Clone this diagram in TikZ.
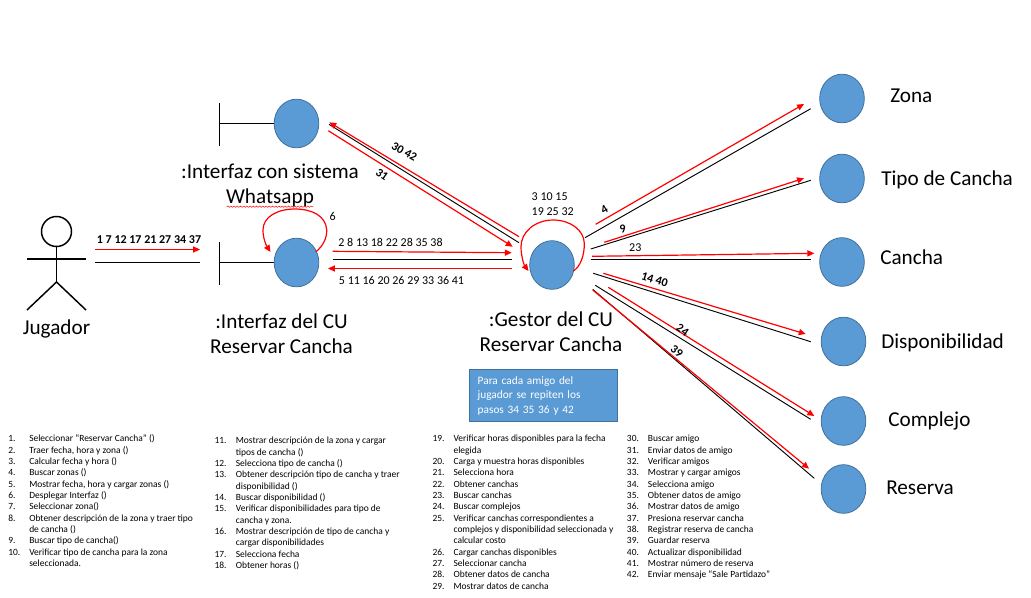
\documentclass[tikz,border=0pt]{standalone}
\usepackage{fontspec}
\setmainfont{Carlito}
\usetikzlibrary{shapes.geometric, arrows.meta, decorations.pathmorphing}
\definecolor{object_blue}{RGB}{91, 155, 213}
\definecolor{object_border}{RGB}{65, 113, 156}
\definecolor{message_red}{RGB}{255, 0, 0}
\tikzstyle{object} = [ellipse, minimum width=33.5pt, minimum height=36.5pt, inner sep=0pt, draw=object_border, line width=0.6pt, fill=object_blue]
\tikzstyle{biglabel} = [inner sep=0pt, align=center, font=\fontsize{15.9}{18.6}\selectfont]
\tikzstyle{entitylabel} = [biglabel, anchor=west]
\tikzstyle{msglabel} = [inner sep=0pt, font=\fontsize{9}{11}\selectfont]
\tikzstyle{tiltlabel} = [inner sep=0pt, font=\fontsize{9}{11}\selectfont\bfseries]
\tikzstyle{steplist} = [inner sep=0pt, anchor=north west, font=\fontsize{7.1}{8.5}\selectfont]
\tikzstyle{notebox} = [rectangle, anchor=north west, minimum width=110.8pt, minimum height=38.8pt, inner xsep=6pt, text width=98.8pt, align=left, text=white, draw=object_border, line width=0.6pt, fill=object_blue, font=\fontsize{8.5}{10.9}\selectfont]
\tikzstyle{link} = [black, line width=0.7pt]
\tikzstyle{arrow} = [message_red, line width=0.9pt, -{Triangle[length=5.2pt, width=4.6pt]}]
\tikzstyle{actorline} = [black, line width=1.1pt]
\tikzstyle{bar} = [black, line width=0.7pt]

\begin{document}
\begin{tikzpicture}[x=0.75pt, y=-0.75pt]
    \useasboundingbox (0,0) rectangle (1031,597);

    % objects
    \node (whatsapp) [object] at (296.5,123.5) {};
    \node (interfaz) [object] at (296.5,262.5) {};
    \node (gestor) [object] at (552,265) {};
    \node (zona) [object] at (842,98.5) {};
    \node (tipo) [object] at (842,178.5) {};
    \node (cancha) [object] at (842,262) {};
    \node (disponibilidad) [object] at (843.5,341.5) {};
    \node (complejo) [object] at (843.5,421) {};
    \node (reserva) [object] at (843.5,489) {};

    % boundary bars
    \coordinate (whatsappbarA) at (219.5,103); \coordinate (whatsappbarB) at (219.5,146); \coordinate (whatsappbarC) at (219.5,123.5);
    \coordinate (interfazbarA) at (219.5,242); \coordinate (interfazbarB) at (219.5,285); \coordinate (interfazbarC) at (219.5,262.5);
    \draw [bar] (whatsappbarA) -- (whatsappbarB);
    \draw [bar] (whatsappbarC) -- (whatsapp.west);
    \draw [bar] (interfazbarA) -- (interfazbarB);
    \draw [bar] (interfazbarC) -- (interfaz.west);

    % actor
    \node (head) [circle, minimum size=22.5pt, inner sep=0pt, draw=black, line width=1.1pt] at (56.5,231.5) {};
    \coordinate (hip) at (56.5,282);
    \coordinate (armleft) at (27,259); \coordinate (armright) at (86,259);
    \coordinate (footleft) at (27,310); \coordinate (footright) at (86,310);
    \draw [actorline] (head.south) -- (hip);
    \draw [actorline] (armleft) -- (armright);
    \draw [actorline] (footleft) -- (hip) -- (footright);

    % labels
    \node (jugadorlabel) [biglabel] at (56.5,329) {Jugador};
    \node (whatsapplabel) [biglabel] at (270,185.5) {:Interfaz con sistema\\Whatsapp};
    \node (interfazlabel) [biglabel] at (281.5,333.5) {:Interfaz del CU\\Reservar Cancha};
    \node (gestorlabel) [biglabel] at (551,331.5) {:Gestor del CU\\Reservar Cancha};
    \node (zonalabel) [entitylabel] at (890,96) {Zona};
    \node (tipolabel) [entitylabel] at (881,180) {Tipo de Cancha};
    \node (canchalabel) [entitylabel] at (880,257) {Cancha};
    \node (disponibilidadlabel) [entitylabel] at (881,343) {Disponibilidad};
    \node (complejolabel) [entitylabel] at (888,421) {Complejo};
    \node (reservalabel) [entitylabel] at (886,488) {Reserva};
    \coordinate (spellA) at (226.7,206.7); \coordinate (spellB) at (313.3,206.7);
    \draw [message_red, line width=0.35pt, decorate, decoration={snake, amplitude=0.5pt, segment length=2.4pt}] (spellA) -- (spellB);

    % note
    \node (nota) [notebox] at (469.3,369.3) {Para cada amigo del\\jugador se repiten los\\pasos 34 35 36 y 42};

    % link ends
    \coordinate (jugadorlinkA) at (95,262.5); \coordinate (jugadorlinkB) at (199.5,262.5);
    \coordinate (whatsapplinkA) at (519,242.7); \coordinate (whatsapplinkB) at (329,124.3);
    \coordinate (interfazlinkA) at (332.7,259.5); \coordinate (interfazlinkB) at (512,259.5);
    \coordinate (zonalinkA) at (585,237.7); \coordinate (zonalinkB) at (810.7,108.7);
    \coordinate (tipolinkA) at (590.7,249); \coordinate (tipolinkB) at (810.7,180.3);
    \coordinate (canchalinkA) at (590.7,259.5); \coordinate (canchalinkB) at (810.7,259.5);
    \coordinate (displinkA) at (593.3,273.3); \coordinate (displinkB) at (810.7,341.7);
    \coordinate (complejolinkA) at (595.3,285.3); \coordinate (complejolinkB) at (810.7,419.3);
    \coordinate (reservalinkA) at (592.7,289.3); \coordinate (reservalinkB) at (814.3,478.3);

    \draw [link] (jugadorlinkA) -- (jugadorlinkB);
    \draw [link] (whatsapplinkA) -- (whatsapplinkB);
    \draw [link] (interfazlinkA) -- (interfazlinkB);
    \draw [link] (zonalinkA) -- (zonalinkB);
    \draw [link] (tipolinkA) -- (tipolinkB);
    \draw [link] (canchalinkA) -- (canchalinkB);
    \draw [link] (displinkA) -- (displinkB);
    \draw [link] (complejolinkA) -- (complejolinkB);
    \draw [link] (reservalinkA) -- (reservalinkB);

    % message ends
    \coordinate (seleccionaA) at (95,249.5); \coordinate (seleccionaB) at (200,249.5);
    \coordinate (buscaramigoA) at (519,236.7); \coordinate (buscaramigoB) at (329.3,122.3);
    \coordinate (enviardatosA) at (328.3,130.7); \coordinate (enviardatosB) at (512.7,246.7);
    \coordinate (traerA) at (332.7,251.3); \coordinate (traerB) at (511.7,252.7);
    \coordinate (mostrarA) at (512,268.5); \coordinate (mostrarB) at (328,268.5);
    \coordinate (buscarzonasA) at (595.7,224.3); \coordinate (buscarzonasB) at (804,104);
    \coordinate (buscartipoA) at (604.3,242.3); \coordinate (buscartipoB) at (804,178.3);
    \coordinate (buscarcanchasA) at (592,256.3); \coordinate (buscarcanchasB) at (814.3,253.3);
    \coordinate (buscardispA) at (603.3,273.3); \coordinate (buscardispB) at (805.7,334);
    \coordinate (buscarcomplejosA) at (608.3,287.3); \coordinate (buscarcomplejosB) at (814.3,416);
    \coordinate (guardarA) at (592.7,290); \coordinate (guardarB) at (809,468.7);

    \draw [arrow] (seleccionaA) -- (seleccionaB);
    \draw [arrow] (buscaramigoA) -- (buscaramigoB);
    \draw [arrow] (enviardatosA) -- (enviardatosB);
    \draw [arrow] (traerA) -- (traerB);
    \draw [arrow] (mostrarA) -- (mostrarB);
    \draw [arrow] (buscarzonasA) -- (buscarzonasB);
    \draw [arrow] (buscartipoA) -- (buscartipoB);
    \draw [arrow] (buscarcanchasA) -- (buscarcanchasB);
    \draw [arrow] (buscardispA) -- (buscardispB);
    \draw [arrow] (buscarcomplejosA) -- (buscarcomplejosB);
    \draw [arrow] (guardarA) -- (guardarB);

    % self messages
    \coordinate (desplegarA) at (316,251.7); \coordinate (desplegarB) at (270.5,252);
    \coordinate (calcularA) at (573.3,271); \coordinate (calcularB) at (528.5,271);
    \draw [arrow] (desplegarA) .. controls (323,246) and (327,238) .. (326.7,230) .. controls (326,216) and (312,209) .. (295,209) .. controls (277,209) and (263,217) .. (263,230) .. controls (263,238) and (266,245) .. (desplegarB);
    \draw [arrow] (calcularA) .. controls (580,267) and (584.5,256) .. (584.3,243.3) .. controls (584,230) and (570,220) .. (553.3,220) .. controls (535,220) and (521,232) .. (521,246.7) .. controls (521,256) and (524,265) .. (calcularB);

    % message numbers
    \node (m1) [tiltlabel] at (149,240) {1 7 12 17 21 27 34 37};
    \node (m2) [msglabel] at (390.5,242) {2 8 13 18 22 28 35 38};
    \node (m5) [msglabel] at (401.5,280) {5 11 16 20 26 29 33 36 41};
    \node (m6) [msglabel] at (332.7,216) {6};
    \node (m3) [msglabel, align=left] at (552.7,204) {3 10 15\\19 25 32};
    \node (m30) [tiltlabel, rotate=-30] at (404.3,151.7) {30 42};
    \node (m31) [tiltlabel, rotate=-35] at (382,174.7) {31};
    \node (m4) [tiltlabel, rotate=30] at (604.3,210) {4};
    \node (m9) [tiltlabel, rotate=15] at (622.7,229.3) {9};
    \node (m23) [msglabel] at (635.3,248) {23};
    \node (m14) [tiltlabel, rotate=-17] at (654.7,279.7) {14 40};
    \node (m24) [tiltlabel, rotate=-35] at (682.7,330) {24};
    \node (m39) [tiltlabel, rotate=-38] at (676.7,351) {39};

    % step lists
    \node (steps1) [steplist] at (8,433.5) {\begin{tabular}{@{}p{15.75pt}@{}l@{}}
        1. & Seleccionar “Reservar Cancha” ()\\
        2. & Traer fecha, hora y zona ()\\
        3. & Calcular fecha y hora ()\\
        4. & Buscar zonas ()\\
        5. & Mostrar fecha, hora y cargar zonas ()\\
        6. & Desplegar Interfaz ()\\
        7. & Seleccionar zona()\\
        8. & Obtener descripción de la zona y traer tipo\\
           & de cancha ()\\
        9. & Buscar tipo de cancha()\\
        10. & Verificar tipo de cancha para la zona\\
           & seleccionada.
    \end{tabular}};
    \node (steps2) [steplist] at (214.3,435.5) {\begin{tabular}{@{}p{16pt}@{}l@{}}
        11. & Mostrar descripción de la zona y cargar\\
            & tipos de cancha ()\\
        12. & Selecciona tipo de cancha ()\\
        13. & Obtener descripción tipo de cancha y traer\\
            & disponibilidad ()\\
        14. & Buscar disponibilidad ()\\
        15. & Verificar disponibilidades para tipo de\\
            & cancha y zona.\\
        16. & Mostrar descripción de tipo de cancha y\\
            & cargar disponibilidades\\
        17. & Selecciona fecha\\
        18. & Obtener horas ()
    \end{tabular}};
    \node (steps3) [steplist] at (432.3,433.5) {\begin{tabular}{@{}p{15.75pt}@{}l@{}}
        19. & Verificar horas disponibles para la fecha\\
            & elegida\\
        20. & Carga y muestra horas disponibles\\
        21. & Selecciona hora\\
        22. & Obtener canchas\\
        23. & Buscar canchas\\
        24. & Buscar complejos\\
        25. & Verificar canchas correspondientes a\\
            & complejos y disponibilidad seleccionada y\\
            & calcular costo\\
        26. & Cargar canchas disponibles\\
        27. & Seleccionar cancha\\
        28. & Obtener datos de cancha\\
        29. & Mostrar datos de cancha
    \end{tabular}};
    \node (steps4) [steplist] at (626.7,433.5) {\begin{tabular}{@{}p{15.75pt}@{}l@{}}
        30. & Buscar amigo\\
        31. & Enviar datos de amigo\\
        32. & Verificar amigos\\
        33. & Mostrar y cargar amigos\\
        34. & Selecciona amigo\\
        35. & Obtener datos de amigo\\
        36. & Mostrar datos de amigo\\
        37. & Presiona reservar cancha\\
        38. & Registrar reserva de cancha\\
        39. & Guardar reserva\\
        40. & Actualizar disponibilidad\\
        41. & Mostrar número de reserva\\
        42. & Enviar mensaje “Sale Partidazo”
    \end{tabular}};
\end{tikzpicture}
\end{document}
